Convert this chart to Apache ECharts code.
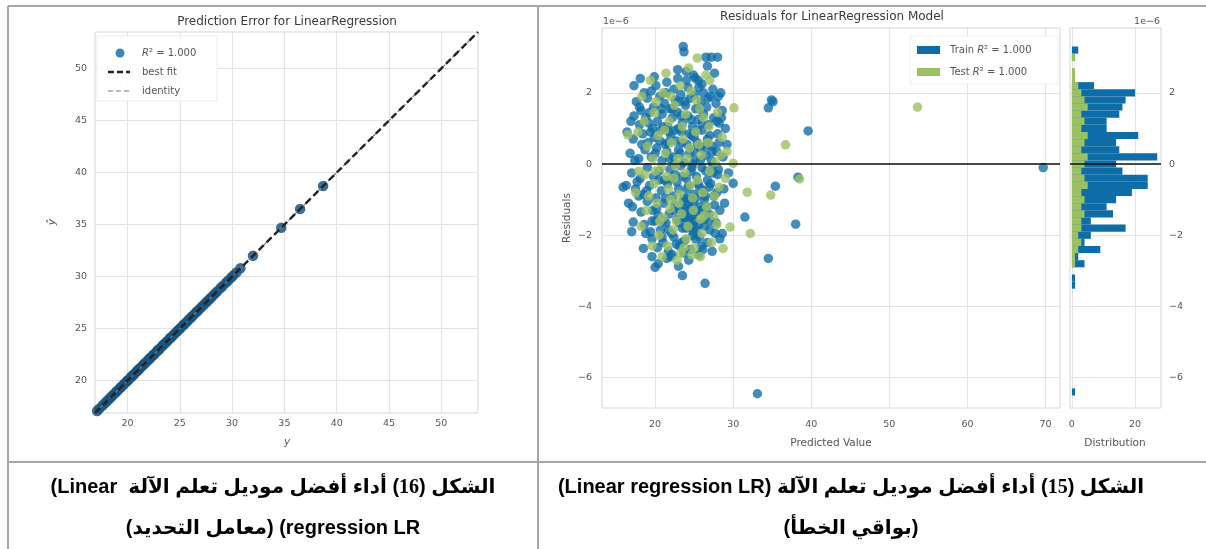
<!DOCTYPE html>
<html><head><meta charset="utf-8">
<script src="https://cdn.jsdelivr.net/npm/echarts@6/dist/echarts.min.js"></script>
<style>
html,body{margin:0;padding:0;background:#fff;}
#wrap{position:relative;width:1206px;height:549px;overflow:hidden;background:#fff;}
#chart{position:absolute;left:0;top:0;width:1206px;height:549px;}
.cap{position:absolute;direction:rtl;text-align:center;font-family:"Liberation Sans","DejaVu Sans",sans-serif;font-weight:bold;font-size:20px;line-height:24px;color:#000;white-space:pre;}
.num{font-family:"Liberation Serif",serif;}
</style></head>
<body><div id="wrap"><div id="chart"></div>
<div class="cap" style="left:8px;width:530px;top:474px;">الشكل (<span class="num">16</span>) أداء أفضل موديل تعلم الآلة  Linear)</div>
<div class="cap" style="left:8px;width:530px;top:515px;">regression LR) (معامل التحديد)</div>
<div class="cap" style="left:538px;width:626px;top:474px;">الشكل (<span class="num">15</span>) أداء أفضل موديل تعلم الآلة (Linear regression LR)</div>
<div class="cap" style="left:538px;width:626px;top:515px;">(بواقي الخطأ)</div>
</div>
<script>
// ---- Prediction error (left) ----
const predLims = [16.9, 53.5];
const predTicks = [20, 25, 30, 35, 40, 45, 50];
const predActual = [17.1,17.3,17.6,17.8,18.0,18.2,18.4,18.5,18.7,18.9,19.0,19.1,19.3,19.4,19.6,19.7,19.9,20.0,20.1,20.3,20.4,20.5,20.6,20.8,20.9,21.0,21.1,21.2,21.4,21.5,21.6,21.7,21.9,22.0,22.1,22.2,22.4,22.5,22.6,22.8,22.9,23.0,23.1,23.3,23.4,23.5,23.7,23.8,24.0,24.1,24.2,24.4,24.5,24.7,24.8,25.0,25.1,25.3,25.4,25.6,25.8,25.9,26.1,26.2,26.4,26.6,26.7,26.9,27.1,27.3,27.5,27.6,27.8,28.0,28.2,28.4,28.6,28.9,29.1,29.4,29.6,29.9,30.1,30.4,30.8,32.0,34.7,36.5,38.7];

// ---- Residuals (right) : [predicted value, residual x1e-6] ----
const resXLims = [13.2, 71.85];
const resYLims = [-6.85, 3.82];
const resXTicks = [20, 30, 40, 50, 60, 70];
const resYTicks = [-6, -4, -2, 0, 2];
const trainPoints = [
[23.6,3.3],[23.7,3.15],[26.5,3.0],[27.2,3.0],[28.0,3.0],[24.9,2.5],[25.1,2.42],
[20.1,2.2],[21.5,2.3],[22.4,2.1],[24.0,2.35],[26.0,2.25],[27.4,2.1],[18.6,2.0],[19.5,2.05],[22.9,2.4],[25.6,2.15],[28.4,2.0],
[17.6,1.75],[18.2,1.5],[19.0,1.85],[19.8,1.6],[20.6,1.9],[21.2,1.7],[21.9,1.55],[22.6,1.8],[23.3,1.95],[23.9,1.65],[24.5,1.85],[25.2,1.55],[25.9,1.75],[26.6,1.6],[27.1,1.9],[27.8,1.7],[28.6,1.5],[34.5,1.58],[34.9,1.8],[35.1,1.75],[17.3,1.35],
[16.9,1.2],[18.0,1.1],[18.8,1.3],[19.3,1.45],[20.3,1.2],[20.9,1.4],[21.6,1.05],[22.2,1.3],[22.9,1.45],[23.5,1.15],[24.2,1.35],[24.8,1.05],[25.5,1.25],[26.2,1.4],[26.8,1.1],[27.5,1.3],[28.2,1.15],[29.0,1.0],[19.7,1.0],[23.0,1.0],
[17.2,0.7],[18.4,0.85],[19.1,0.6],[19.9,0.75],[20.7,0.95],[21.3,0.55],[22.0,0.8],[22.7,0.65],[23.4,0.9],[24.1,0.55],[24.7,0.8],[25.4,0.6],[26.0,0.95],[26.7,0.7],[27.3,0.5],[28.0,0.85],[39.6,0.93],[21.8,0.9],[25.0,0.75],
[16.8,0.3],[17.9,0.15],[18.7,0.4],[19.5,0.2],[20.2,0.45],[20.9,0.1],[21.5,0.35],[22.3,0.2],[23.0,0.4],[23.7,0.05],[24.4,0.3],[25.1,0.15],[25.8,0.45],[26.5,0.25],[27.2,0.1],[27.9,0.35],[28.7,0.2],[22.5,0.0],[24.8,0.0],
[17.0,-0.25],[18.1,-0.4],[19.0,-0.1],[19.8,-0.35],[20.5,-0.2],[21.2,-0.45],[21.9,-0.15],[22.6,-0.3],[23.3,-0.05],[24.0,-0.4],[24.6,-0.2],[25.3,-0.35],[26.0,-0.1],[26.7,-0.45],[27.4,-0.25],[28.1,-0.15],[69.7,-0.1],
[15.9,-0.65],[16.3,-0.6],[17.5,-0.7],[18.5,-0.85],[19.3,-0.6],[20.1,-0.95],[20.8,-0.75],[21.6,-0.55],[22.3,-0.9],[23.0,-0.7],[23.7,-0.95],[24.3,-0.6],[25.0,-0.85],[25.7,-0.65],[26.4,-0.9],[27.1,-0.55],[27.9,-0.8],[28.8,-0.7],[30.0,-0.54],[35.4,-0.62],[38.3,-0.37],[17.9,-0.9],
[17.1,-1.2],[18.2,-1.35],[19.0,-1.05],[19.7,-1.3],[20.4,-1.45],[21.1,-1.1],[21.8,-1.4],[22.5,-1.15],[23.2,-1.3],[23.6,-1.05],[24.0,-1.25],[24.4,-1.45],[24.9,-1.1],[25.3,-1.35],[25.7,-1.2],[26.3,-1.0],[26.9,-1.4],[27.6,-1.15],[28.3,-1.3],[31.5,-1.49],[23.9,-1.5],[24.6,-1.0],
[17.2,-1.63],[18.6,-1.7],[19.4,-1.9],[20.0,-1.6],[20.7,-1.85],[21.4,-1.65],[22.1,-1.95],[22.8,-1.55],[23.5,-1.8],[24.2,-1.6],[24.9,-1.9],[25.6,-1.7],[26.3,-1.55],[27.0,-1.85],[27.8,-1.65],[38.0,-1.69],[28.6,-1.95],
[18.5,-2.37],[19.6,-2.1],[20.3,-2.35],[21.0,-2.2],[21.7,-2.45],[22.4,-2.05],[23.1,-2.3],[23.8,-2.15],[24.5,-2.4],[25.2,-2.1],[25.9,-2.3],[26.7,-2.2],[27.3,-2.45],[34.5,-2.65],
[19.6,-2.6],[20.0,-2.9],[20.4,-2.8],[21.5,-2.65],[23.0,-2.87],[23.5,-3.13],[24.3,-2.7],[25.6,-2.55],[26.4,-3.35],[22.2,-2.55],
[33.1,-6.45],
[17.4,0.1],[17.7,-0.5],[18.3,0.55],[18.9,-0.75],[19.2,1.15],[19.6,-1.6],[20.0,0.3],[20.2,-1.25],[20.6,0.65],[20.9,-2.05],[21.1,1.05],[21.3,-0.95],[21.4,2.0],[21.7,-1.85],[21.9,0.15],[22.0,-2.6],[22.2,1.55],[22.4,-1.3],[22.6,0.95],[22.8,-0.5],[22.9,2.65],[23.1,-1.65],[23.2,0.3],[23.3,1.35],[23.4,-2.2],[23.5,0.6],[23.6,-0.35],[23.8,1.75],[23.9,-1.35],[24.1,-0.7],[24.2,2.15],[24.3,-1.15],[24.4,0.85],[24.5,-1.65],[24.6,1.25],[24.7,-0.1],[24.9,-1.45],[25.0,0.4],[25.1,1.95],[25.2,-0.95],[25.3,-1.85],[25.4,0.95],[25.5,-0.55],[25.6,1.55],[25.7,-2.05],[25.8,0.1],[25.9,-1.3],[26.0,1.15],[26.1,-0.75],[26.2,2.0],[26.3,-1.75],[26.4,0.5],[26.5,-0.2],[26.6,-1.2],[26.8,1.85],[26.9,-0.65],[27.0,0.8],[27.1,-1.6],[27.3,0.35],[27.5,-0.9],[27.6,2.55],[27.7,-1.95],[27.9,1.2],[28.0,-0.3],[28.2,0.6],[28.3,-2.1],[28.5,1.3],[28.9,-1.1],[29.2,0.55],[29.4,-0.25],
[18.0,1.6],[18.8,-1.95],[19.4,0.9],[19.9,2.45],[20.5,-0.45],[20.8,1.55],[21.0,-1.6],[21.6,0.6],[22.1,-0.4],[22.7,-2.25],[23.0,1.75],[23.7,-2.5],[24.0,2.6],[24.8,-2.0],[25.5,2.35],[26.1,-2.4],[26.7,2.75],[27.4,-0.05],[28.1,1.9],[16.6,-1.1],[17.0,-1.9],[16.4,0.9],[17.3,2.2],[18.1,2.4],
[24.35,-1.55],[24.15,-0.95],[23.95,-1.8],[24.75,-1.75],[23.45,-1.5],[24.55,-1.25],[25.05,-1.6]
];
const testPoints = [
[25.4,2.98],[30.1,1.58],[53.6,1.6],[16.5,0.82],[36.7,0.54],[30.0,0.02],[31.8,-0.79],[34.8,-0.87],[38.5,-0.42],[32.2,-1.95],[29.6,-1.77],[28.7,-2.37],
[18.3,1.9],[19.9,1.45],[21.0,2.0],[21.8,1.2],[22.5,1.65],[23.2,2.2],[23.9,1.4],[24.6,2.05],[25.3,1.8],[26.2,1.3],[27.0,2.35],[28.0,1.45],
[17.8,0.9],[19.0,0.5],[20.4,0.8],[21.3,0.3],[22.1,0.6],[22.9,0.15],[23.6,0.7],[24.4,0.45],[25.2,0.9],[25.9,0.25],[26.8,0.6],[27.7,0.05],[28.6,0.75],[29.2,0.35],
[18.7,-0.3],[19.9,-0.55],[20.8,-0.1],[21.7,-0.7],[22.4,-0.4],[23.1,-0.85],[23.8,-0.25],[24.5,-0.6],[25.4,-0.45],[26.1,-0.8],[27.0,-0.2],[28.2,-0.65],[29.0,-0.4],
[18.9,-1.3],[20.2,-1.1],[21.0,-1.5],[21.9,-1.25],[22.7,-1.6],[23.4,-1.4],[24.2,-1.75],[24.9,-1.3],[25.8,-1.55],[26.6,-1.2],[27.5,-1.45],
[20.5,-2.0],[21.6,-2.3],[22.3,-1.85],[23.3,-2.5],[24.0,-2.1],[25.0,-2.35],[26.0,-1.95],[27.2,-2.2],[22.8,-2.7],[24.7,-2.55],[19.4,2.35],[26.5,2.5],[17.5,-0.8],
[17.9,-0.2],[18.6,1.2],[19.2,-0.9],[19.7,0.15],[20.1,1.75],[20.6,-1.6],[21.2,0.95],[21.5,-0.35],[22.0,1.9],[22.6,-0.05],[23.0,-1.1],[23.5,1.05],[24.1,0.15],[24.8,-0.95],[25.6,0.55],[26.3,-1.45],[26.9,1.05],[27.6,-0.9],[28.4,0.25],[18.2,-1.75],[19.6,-2.3],[20.9,-2.6],[23.7,-2.35],[25.8,-2.6],[27.9,-1.7],[21.4,2.55],[24.3,2.7],[22.0,-1.0],[25.7,1.55],[20.0,-0.2]
];

// ---- Residual histogram (50 bins of 0.2e-6 from -6.5e-6) ----
const histLims = [-0.6, 28.2];
const histTicks = [0, 20];
const histBinStart = -6.5, histBinWidth = 0.2;
const histTrain = [1,0,0,0,0,0,0,0,0,0,0,0,0,0,0,1,1,0,4,2,9,4,6,17,6,13,11,14,19,24,24,16,14,27,15,14,21,11,11,15,16,17,20,7,0,0,0,1,2,0];
const histTest  = [0,0,0,0,0,0,0,0,0,0,0,0,0,0,0,0,0,0,1,1,2,3,2,3,3,4,3,4,3,5,4,3,4,5,3,4,5,3,4,3,5,4,3,2,1,1,0,1,0,0];

const BLUE = '#0e6da6', GREEN = '#9cc064';
const TXT = '#555', FONT = 'DejaVu Sans';
const fmt = v => String(v).replace('-', '\u2212');

function binData(counts){
  const out = [];
  counts.forEach((c, i) => { if (c > 0) out.push([c, histBinStart + i*histBinWidth, histBinStart + (i+1)*histBinWidth]); });
  return out;
}
function histItem(params, api){
  const p0 = api.coord([0, api.value(1)]);
  const p1 = api.coord([api.value(0), api.value(2)]);
  return {type:'rect', shape:{x:p0[0], y:p1[1], width:p1[0]-p0[0], height:p0[1]-p1[1]}, style:{fill: api.visual('color')}};
}
function valAxis(grid, lims, ticks, extra){
  return Object.assign({
    type:'value', gridIndex:grid, min:lims[0], max:lims[1],
    axisLine:{show:false}, axisTick:{show:false, customValues:ticks},
    axisLabel:{customValues:ticks, formatter:fmt, color:TXT, fontFamily:FONT, fontSize:9.5},
    splitLine:{show:true, lineStyle:{color:'#e2e2e2', width:1}}
  }, extra||{});
}
function txt(x, y, text, o){
  o = o || {};
  return {type:'text', x:x, y:y, rotation:o.rot||0, z:100, silent:true,
    style:{text:text, fill:o.fill||TXT, font:(o.style||'normal')+' '+(o.size||10)+'px "'+(o.family||FONT)+'"',
      align:o.align||'center', verticalAlign:'middle', textAlign:o.align||'center', textVerticalAlign:'middle', rich:o.rich}};
}
function ln(x1,y1,x2,y2,stroke,w,dash){
  return {type:'line', z:100, silent:true, shape:{x1,y1,x2,y2}, style:{stroke, lineWidth:w, lineDash:dash||null}};
}

const chart = echarts.init(document.getElementById('chart'), null, {renderer:'canvas'});
chart.setOption({
  animation:false,
  backgroundColor:'#fff',
  grid:[
    {left:95, top:32, width:383, height:381, show:true, borderColor:'#d6d6d6', borderWidth:1, outerBoundsMode:'none'},
    {left:602, top:28, width:458, height:380, show:true, borderColor:'#d6d6d6', borderWidth:1, outerBoundsMode:'none'},
    {left:1070, top:28, width:91, height:380, show:true, borderColor:'#d6d6d6', borderWidth:1, outerBoundsMode:'none'}
  ],
  xAxis:[
    valAxis(0, predLims, predTicks, {axisLabel:{customValues:predTicks, formatter:fmt, color:TXT, fontFamily:FONT, fontSize:9.5, margin:6}}),
    valAxis(1, resXLims, resXTicks, {axisLabel:{customValues:resXTicks, formatter:fmt, color:TXT, fontFamily:FONT, fontSize:9.5, margin:12}}),
    valAxis(2, histLims, histTicks, {axisLabel:{customValues:histTicks, formatter:fmt, color:TXT, fontFamily:FONT, fontSize:9.5, margin:12}})
  ],
  yAxis:[
    valAxis(0, predLims, predTicks, {axisLabel:{customValues:predTicks, formatter:fmt, color:TXT, fontFamily:FONT, fontSize:9.5, margin:8}}),
    valAxis(1, resYLims, resYTicks, {axisLabel:{customValues:resYTicks, formatter:fmt, color:TXT, fontFamily:FONT, fontSize:9.5, margin:10}}),
    valAxis(2, resYLims, resYTicks, {position:'right', axisLabel:{customValues:resYTicks, formatter:fmt, color:TXT, fontFamily:FONT, fontSize:9.5, margin:8}})
  ],
  series:[
    {type:'scatter', xAxisIndex:0, yAxisIndex:0, symbolSize:10.5, z:2,
     itemStyle:{color:'#1a5580', opacity:0.85}, data: predActual.map(v => [v, v])},
    {type:'line', xAxisIndex:0, yAxisIndex:0, symbol:'none', z:3, silent:true,
     lineStyle:{color:'#777', width:1.2, type:[4,3]}, data:[[predLims[0],predLims[0]],[predLims[1],predLims[1]]]},
    {type:'line', xAxisIndex:0, yAxisIndex:0, symbol:'none', z:4, silent:true,
     lineStyle:{color:'#222', width:2.4, type:[7,4]}, data:[[predLims[0],predLims[0]],[predLims[1],predLims[1]]]},

    {type:'scatter', xAxisIndex:1, yAxisIndex:1, symbolSize:9.5, z:2,
     itemStyle:{color:BLUE, opacity:0.78}, data: trainPoints},
    {type:'scatter', xAxisIndex:1, yAxisIndex:1, symbolSize:9.5, z:3,
     itemStyle:{color:GREEN, opacity:0.8}, data: testPoints},
    {type:'line', xAxisIndex:1, yAxisIndex:1, symbol:'none', z:5, silent:true,
     lineStyle:{color:'#111', width:1.6}, data:[[resXLims[0],0],[resXLims[1],0]]},

    {type:'custom', xAxisIndex:2, yAxisIndex:2, renderItem:histItem, clip:true, z:2,
     itemStyle:{color:BLUE}, encode:{x:0, y:[1,2]}, data: binData(histTrain)},
    {type:'custom', xAxisIndex:2, yAxisIndex:2, renderItem:histItem, clip:true, z:3,
     itemStyle:{color:GREEN}, encode:{x:0, y:[1,2]}, data: binData(histTest)},
    {type:'line', xAxisIndex:2, yAxisIndex:2, symbol:'none', z:5, silent:true,
     lineStyle:{color:'#111', width:1.6}, data:[[histLims[0],0],[histLims[1],0]]}
  ],
  graphic:[
    ln(8,6,1206,6,'#a6a6a6',2), ln(8,6,8,549,'#a6a6a6',2), ln(538,6,538,549,'#a6a6a6',2), ln(8,462,1206,462,'#a6a6a6',2),
    txt(287,22,'Prediction Error for LinearRegression',{size:12,fill:'#3a3a3a'}),
    txt(287,442,'y',{size:10.5,style:'italic'}),
    txt(52,222,'\u0177',{size:11,style:'italic',rot:Math.PI/2}),
    {type:'rect', z:90, silent:true, shape:{x:97,y:36,width:120,height:65}, style:{fill:'rgba(255,255,255,0.9)', stroke:'#ececec', lineWidth:1}},
    {type:'circle', z:100, silent:true, shape:{cx:120,cy:53,r:4.5}, style:{fill:'#3b88b8'}},
    txt(142,53,'{i|R}\u00b2 = 1.000',{size:10,align:'left',rich:{i:{fontStyle:'italic',fontSize:10,fontFamily:FONT,fill:TXT}}}),
    ln(108,72,130,72,'#222',2.4,[6,3]), txt(142,72,'best fit',{size:10,align:'left'}),
    ln(108,91,130,91,'#777',1.2,[5,3]), txt(142,91,'identity',{size:10,align:'left'}),
    txt(832,17,'Residuals for LinearRegression Model',{size:12,fill:'#3a3a3a'}),
    txt(603,22,'1e\u22126',{size:9.5,align:'left'}),
    txt(1160,22,'1e\u22126',{size:9.5,align:'right'}),
    txt(567,218,'Residuals',{size:10.5,rot:Math.PI/2}),
    txt(831,443,'Predicted Value',{size:10.5}),
    txt(1115,443,'Distribution',{size:10.5}),
    {type:'rect', z:90, silent:true, shape:{x:910,y:36,width:148,height:48}, style:{fill:'rgba(255,255,255,0.9)', stroke:'#ececec', lineWidth:1}},
    {type:'rect', z:100, silent:true, shape:{x:917,y:46,width:23,height:8}, style:{fill:BLUE}},
    {type:'rect', z:100, silent:true, shape:{x:917,y:68,width:23,height:8}, style:{fill:GREEN}},
    txt(950,50,'Train {i|R}\u00b2 = 1.000',{size:10,align:'left',rich:{i:{fontStyle:'italic',fontSize:10,fontFamily:FONT,fill:TXT}}}),
    txt(950,72,'Test {i|R}\u00b2 = 1.000',{size:10,align:'left',rich:{i:{fontStyle:'italic',fontSize:10,fontFamily:FONT,fill:TXT}}})
  ]
});
</script>
</body></html>
